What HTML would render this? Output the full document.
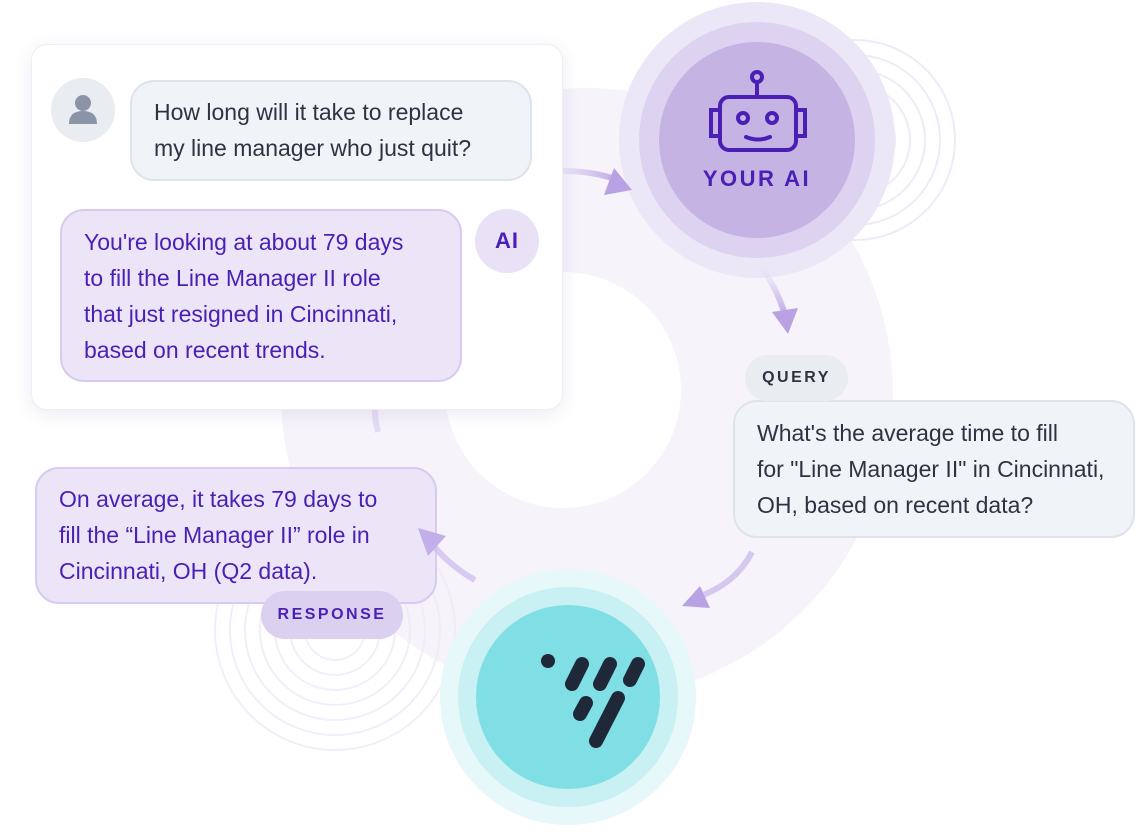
<!DOCTYPE html>
<html><head><meta charset="utf-8"><style>
body{margin:0;width:1136px;height:836px;background:#fff;position:relative;overflow:hidden;font-family:"Liberation Sans",sans-serif}
.abs{position:absolute;box-sizing:border-box}
.b{font-size:23px;line-height:36px;white-space:nowrap}
.pill{font-weight:bold;letter-spacing:2.5px;font-size:16px;text-align:center;border-radius:24px}
</style></head><body>
<svg class="abs" style="left:0;top:0" width="1136" height="836">
<defs>
<linearGradient id="ga" x1="0" y1="0" x2="1" y2="0"><stop offset="0" stop-color="#c9b8ea" stop-opacity="0"/><stop offset="1" stop-color="#b9a2e4"/></linearGradient>
<linearGradient id="gb" x1="0" y1="0" x2="0" y2="1"><stop offset="0" stop-color="#c9b8ea" stop-opacity="0"/><stop offset="1" stop-color="#b9a2e4"/></linearGradient>
</defs>
<circle cx="587" cy="394" r="306" fill="#f6f3fb"/>
<circle cx="563" cy="390" r="118" fill="#fff"/>
<g fill="none" stroke="#ebe6f6" stroke-width="2" opacity=".8">
<circle cx="855" cy="140" r="40"/><circle cx="855" cy="140" r="55"/><circle cx="855" cy="140" r="70"/><circle cx="855" cy="140" r="85"/><circle cx="855" cy="140" r="100"/>
</g>
<g fill="none" stroke="#efebf8" stroke-width="2" opacity=".8">
<circle cx="335" cy="630" r="30"/><circle cx="335" cy="630" r="45"/><circle cx="335" cy="630" r="60"/><circle cx="335" cy="630" r="75"/><circle cx="335" cy="630" r="90"/><circle cx="335" cy="630" r="105"/><circle cx="335" cy="630" r="120"/>
</g>
<circle cx="757" cy="140" r="138" fill="#ece7f7"/>
<circle cx="757" cy="140" r="118" fill="#ddd3f0"/>
<circle cx="757" cy="140" r="98" fill="#c5b3e3"/>
<g fill="none" stroke="#4a1fb5" stroke-width="4" stroke-linecap="round">
<circle cx="757" cy="77" r="5"/><line x1="757" y1="82" x2="757" y2="96"/>
<rect x="720" y="97" width="76" height="53" rx="9"/>
<path d="M720 110 h-9 v26 h9 M796 110 h9 v26 h-9"/>
<circle cx="743" cy="118" r="5"/><circle cx="772" cy="118" r="5"/>
<path d="M746 137 q12 5 24 0"/>
</g>
<text x="757" y="186" text-anchor="middle" font-family="Liberation Sans" font-weight="bold" font-size="22" letter-spacing="2.5" fill="#4a1fb5">YOUR AI</text>
<circle cx="568" cy="697" r="128" fill="#e6f8f9"/>
<circle cx="568" cy="697" r="110" fill="#c9f0f2"/>
<circle cx="568" cy="697" r="92" fill="#80dfe4"/>
<g stroke="#1e2838" stroke-width="14" stroke-linecap="round">
<circle cx="548" cy="661" r="7" fill="#1e2838" stroke="none"/>
<line x1="582" y1="664" x2="572" y2="684"/><line x1="610" y1="664" x2="600" y2="684"/><line x1="638" y1="664" x2="630" y2="680"/>
<line x1="586" y1="703" x2="580" y2="714"/><line x1="618" y1="698" x2="596" y2="741"/>
</g>
<g fill="none" stroke-width="6">
<path d="M545 172 Q590 168 622 182" stroke="url(#ga)"/>
<path d="M762 268 Q778 290 786 318" stroke="url(#gb)"/>
<path d="M752 552 Q735 585 695 598" stroke="#cdbdec" opacity=".8"/>
<path d="M378 390 Q372 410 378 432" stroke="#e4dcf5"/>
</g>
<g fill="#b9a2e4">
<polygon points="632,190 604,195 614,168"/>
<polygon points="788,334 772,312 798,308"/>
<polygon points="682,606 700,586 710,608"/>
</g>
</svg>
<div class="abs" style="left:31px;top:44px;width:532px;height:366px;background:#fff;border-radius:16px;box-shadow:0 4px 18px rgba(80,60,140,.10);border:1px solid #f0eef5"></div>
<svg class="abs" style="left:51px;top:78px" width="64" height="64"><circle cx="32" cy="32" r="32" fill="#e9ecf1"/><circle cx="32" cy="25" r="8" fill="#8a94a6"/><path d="M18 46 q0-13 14-13 q14 0 14 13 z" fill="#8a94a6"/></svg>
<div class="abs b" style="left:130px;top:80px;width:402px;height:101px;background:#f0f3f7;border:2px solid #dfe4ec;border-radius:24px;padding:12px 22px;color:#2d3340">How long will it take to replace<br>my line manager who just quit?</div>
<div class="abs b" style="left:60px;top:209px;width:402px;height:173px;background:#ebe5f7;border:2px solid #d7cbef;border-radius:24px;padding:13px 22px;color:#4a1fb5">You're looking at about 79 days<br>to fill the Line Manager II role<br>that just resigned in Cincinnati,<br>based on recent trends.</div>
<div class="abs" style="left:475px;top:209px;width:64px;height:64px;border-radius:50%;background:#e9e2f6;color:#4a1fb5;font-weight:bold;font-size:22px;line-height:64px;text-align:center;letter-spacing:1px">AI</div>
<div class="abs b" style="left:733px;top:400px;width:402px;height:138px;background:#f0f3f7;border:2px solid #dfe4ec;border-radius:24px;padding:13px 22px;color:#2d3340">What's the average time to fill<br>for "Line Manager II" in Cincinnati,<br>OH, based on recent data?</div>
<div class="abs pill" style="left:745px;top:355px;width:103px;height:46px;line-height:46px;background:#e9ecf1;color:#2d3340">QUERY</div>
<div class="abs b" style="left:35px;top:467px;width:402px;height:137px;background:#ebe5f7;border:2px solid #d7cbef;border-radius:24px;padding:12px 22px;color:#4a1fb5">On average, it takes 79 days to<br>fill the “Line Manager II” role in<br>Cincinnati, OH (Q2 data).</div>
<div class="abs pill" style="left:261px;top:591px;width:142px;height:48px;line-height:48px;background:#dcd0f0;color:#4a1fb5">RESPONSE</div>
<svg class="abs" style="left:0;top:0" width="1136" height="836">
<path d="M475 580 Q450 566 432 544" fill="none" stroke="#d2c2ee" stroke-width="6" opacity=".85"/>
<polygon points="418,528 446,536 428,556" fill="#c2aee8"/>
</svg>
</body></html>
